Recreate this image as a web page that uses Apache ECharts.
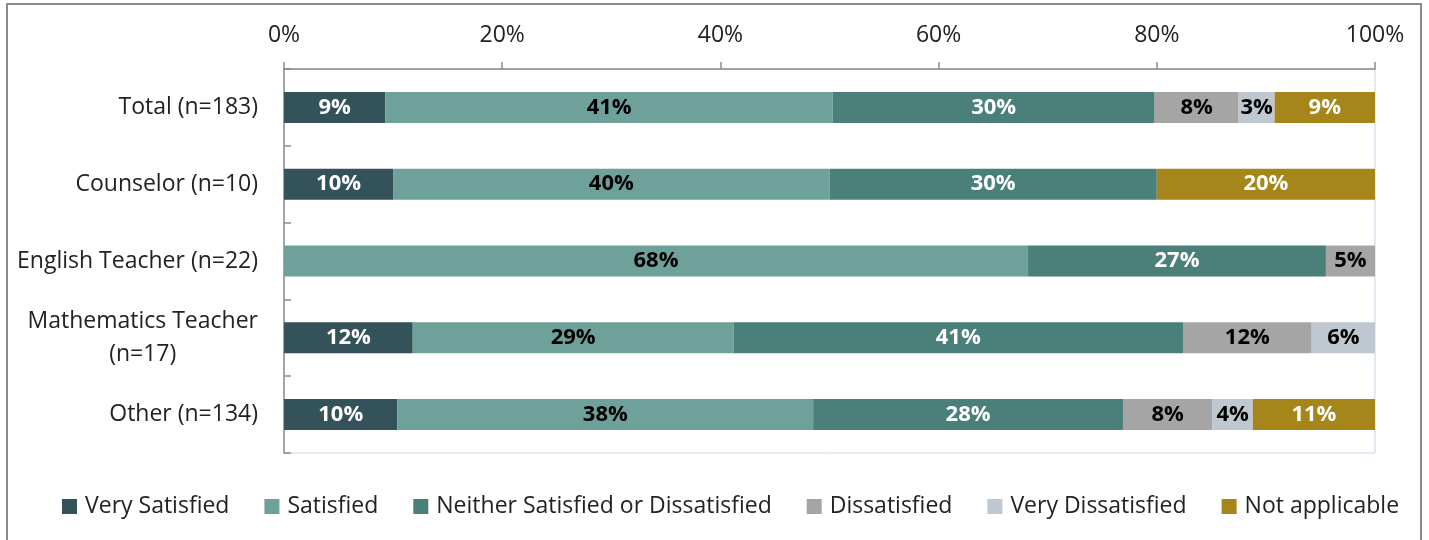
<!DOCTYPE html>
<html>
<head>
<meta charset="utf-8">
<script src="https://cdn.jsdelivr.net/npm/echarts@6/dist/echarts.min.js"></script>
<style>
  html, body { margin: 0; padding: 0; background: #fff; }
  #main { width: 1429px; height: 540px; }
</style>
</head>
<body>
<div id="main"></div>
<script>
  // categories, top to bottom
  const categories = ['Total (n=183)', 'Counselor (n=10)', 'English Teacher (n=22)', 'Mathematics Teacher\n(n=17)', 'Other (n=134)']
  const seriesNames = ['Very Satisfied', 'Satisfied', 'Neither Satisfied or Dissatisfied', 'Dissatisfied', 'Very Dissatisfied', 'Not applicable']

  // percent values per response, one entry per category
  const verySatisfied = [9.3, 10, 0, 11.8, 10.4]
  const satisfied = [41.0, 40, 68.2, 29.4, 38.1]
  const neither = [29.5, 30, 27.3, 41.2, 28.4]
  const dissatisfied = [7.7, 0, 4.5, 11.8, 8.2]
  const veryDissatisfied = [3.3, 0, 0, 5.8, 3.7]
  const notApplicable = [9.2, 20, 0, 0, 11.2]

  const xTicks = [0, 20, 40, 60, 80, 100]

  const colors = ['#33525A', '#6FA19B', '#4A8079', '#A5A5A5', '#BFC8D0', '#A6861A']
  const labelColors = ['#fff', '#000', '#fff', '#000', '#000', '#fff']
  const allValues = [verySatisfied, satisfied, neither, dissatisfied, veryDissatisfied, notApplicable]
  const FONT = 'Open Sans'
  const FS = 23

  const myChart = echarts.init(document.getElementById('main'))

  const series = seriesNames.map((name, i) => ({
    name: name,
    type: 'bar',
    stack: 'total',
    barWidth: 31,
    data: allValues[i],
    itemStyle: { color: colors[i] },
    label: {
      show: true,
      position: 'inside',
      color: labelColors[i],
      fontFamily: FONT,
      fontWeight: 'bold',
      fontSize: 22,
      formatter: (p) => p.value > 0 ? Math.round(p.value) + '%' : ''
    }
  }))

  myChart.setOption({
    animation: false,
    textStyle: { fontFamily: FONT },
    color: colors,
    grid: {
      left: 284,
      right: 54,
      top: 69,
      bottom: 87,
      show: true,
      borderColor: '#C6D5E8',
      borderWidth: 1
    },
    xAxis: {
      type: 'value',
      position: 'top',
      min: xTicks[0],
      max: xTicks[xTicks.length - 1],
      interval: 20,
      axisLine: { show: true, lineStyle: { color: '#8C8C8C', width: 1.5 } },
      axisTick: { show: true, length: 7, lineStyle: { color: '#8C8C8C', width: 1.5 } },
      splitLine: { show: false },
      axisLabel: {
        margin: 22,
        color: '#222',
        fontSize: FS,
        fontFamily: FONT,
        formatter: '{value}%'
      }
    },
    yAxis: {
      type: 'category',
      inverse: true,
      data: categories,
      axisLine: { show: true, lineStyle: { color: '#8C8C8C', width: 1.5 } },
      axisTick: { show: true, inside: true, length: 7, lineStyle: { color: '#8C8C8C', width: 1.5 } },
      axisLabel: {
        margin: 26,
        color: '#222',
        fontSize: FS,
        fontFamily: FONT,
        lineHeight: 33,
        formatter: (v) => v.indexOf('\n') >= 0
          ? v.split('\n').map(s => '{c|' + s + '}').join('\n')
          : v,
        rich: {
          c: { align: 'center', fontSize: FS, fontFamily: FONT, color: '#222', lineHeight: 33 }
        }
      }
    },
    legend: {
      data: seriesNames,
      bottom: 17,
      left: 57,
      itemWidth: 15,
      itemHeight: 15,
      itemGap: 35,
      icon: 'rect',
      textStyle: { fontSize: FS, color: '#222', fontFamily: FONT, padding: [0, 0, 0, 3] }
    },
    graphic: [{
      type: 'rect',
      shape: { x: 7, y: 4, width: 1414, height: 545 },
      style: { fill: 'none', stroke: '#8C8C8C', lineWidth: 2 },
      silent: true
    }],
    series: series
  })
</script>
</body>
</html>
